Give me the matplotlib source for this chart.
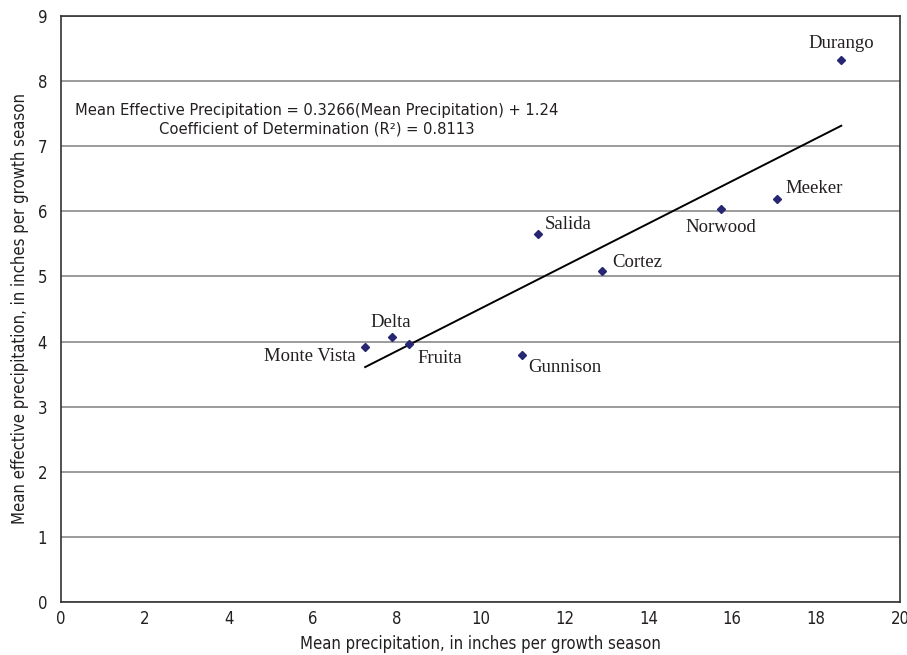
import numpy as np
import matplotlib.pyplot as plt

# Station data
stations = ['Durango', 'Meeker', 'Norwood', 'Salida', 'Cortez',
            'Delta', 'Monte Vista', 'Fruita', 'Gunnison']
mean_precip = [18.59, 17.06, 15.73, 11.38, 12.90, 7.88, 7.25, 8.30, 11.00]
eff_precip = [8.33, 6.19, 6.04, 5.65, 5.08, 4.07, 3.92, 3.97, 3.79]

# Regression
slope = 0.3266
intercept = 1.24
r2 = 0.8113
fit_range = [7.25, 18.6]

# label offsets in pixels (dx, dy, ha, va)
label_pos = {
    'Durango': (0, 8, 'center', 'bottom'),
    'Meeker': (9, 2, 'left', 'bottom'),
    'Norwood': (0, -10, 'center', 'top'),
    'Salida': (6, 1, 'left', 'bottom'),
    'Cortez': (10, 0, 'left', 'bottom'),
    'Delta': (-1, 6, 'center', 'bottom'),
    'Monte Vista': (-9, -1, 'right', 'top'),
    'Fruita': (8, -6, 'left', 'top'),
    'Gunnison': (6, -4, 'left', 'top'),
}

serif = 'Liberation Serif'
plt.rcParams['font.family'] = 'DejaVu Sans'
plt.rcParams['font.stretch'] = 'condensed'

fig = plt.figure(figsize=(9.07, 6.55), dpi=100)
ax = fig.add_axes([61 / 907, 53 / 655, 839 / 907, 586 / 655])

ax.set_xlim(0, 20)
ax.set_ylim(0, 9)
ax.set_xticks(range(0, 21, 2))
ax.set_yticks(range(0, 10))
ax.yaxis.grid(True, color='#808080', lw=1.1)
ax.set_axisbelow(True)
ax.tick_params(length=0, labelsize=12, colors='#231f20')
ax.tick_params(axis='x', pad=6)
ax.tick_params(axis='y', pad=10)
for s in ax.spines.values():
    s.set_color('#333333')
    s.set_linewidth(1.2)

xs = np.array(fit_range)
ax.plot(xs, slope * xs + intercept, color='black', lw=1.4, zorder=2)

ax.plot(mean_precip, eff_precip, 'D', color='#262673', ms=4.5, zorder=3, lw=0)

for name, x, y in zip(stations, mean_precip, eff_precip):
    dx, dy, ha, va = label_pos[name]
    ax.annotate(name, (x, y), xytext=(dx, dy), textcoords='offset pixels',
                ha=ha, va=va, fontsize=13.5, family=serif, color='#231f20')

ax.text(6.1, 7.4,
        f'Mean Effective Precipitation = {slope}(Mean Precipitation) + {intercept}\n'
        f'Coefficient of Determination (R²) = {r2}',
        ha='center', va='center', fontsize=11.8, linespacing=1.3, color='#231f20')

ax.set_xlabel('Mean precipitation, in inches per growth season', fontsize=12,
              color='#231f20', labelpad=5)
ax.set_ylabel('Mean effective precipitation, in inches per growth season', fontsize=12,
              color='#231f20', labelpad=6)

fig.savefig('out.png', dpi=100)
